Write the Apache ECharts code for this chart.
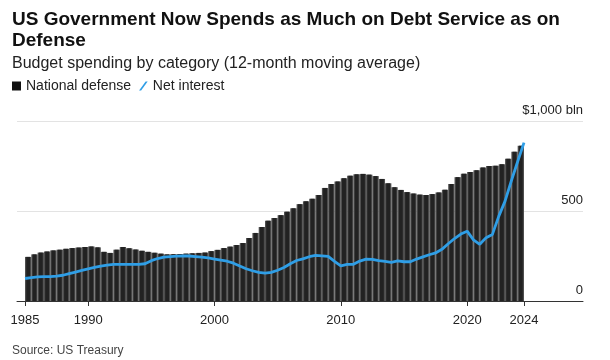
<!DOCTYPE html>
<html>
<head>
<meta charset="utf-8">
<script src="https://cdn.jsdelivr.net/npm/echarts@6/dist/echarts.min.js"></script>
<style>
html,body{margin:0;padding:0;background:#fff;}
#chart{width:610px;height:360px;}
</style>
</head>
<body>
<div id="chart"></div>
<script>
// Semiannual values (bln USD), 12-month moving average
const startYear = 1985;
const step = 0.5;
// National defense: one value per half-year, 1985 H1 ... 2024 H1
const defense = [245,259,269,275,281,285,290,294,297,300,303,298,273,267,285,300,293,286,279,273,
  268,263,259,260,261,263,265,267,269,277,284,294,302,311,322,350,378,411,446,461,
  477,496,515,538,554,568,589,628,650,664,682,696,704,706,702,694,678,654,632,617,
  605,597,591,589,594,603,618,650,688,707,717,727,741,750,751,760,790,829,862];
// Net interest: points every half-year, 1985.0 ... 2024.5
const interest = [125,130,134,135,135,138,143,152,161,170,179,187,194,199,203,204,204,204,204,207,
  224,236,244,247,249,250,250,247,244,239,233,227,221,210,194,179,168,159,155,159,
  171,186,207,225,234,246,253,251,248,220,195,203,204,222,233,231,224,220,215,223,
  218,218,233,245,257,267,287,318,347,372,388,340,315,352,370,470,555,668,775,880];
const tickYears = [1985, 1990, 2000, 2010, 2020, 2024.5];
const tickLabels = ['1985', '1990', '2000', '2010', '2020', '2024'];
const yTicks = [0, 500, 1000];
const yLabels = ['0', '500', '$1,000 bln'];

const defensePts = defense.map((v, i) => [startYear + step / 2 + i * step, v]);
const interestPts = interest.map((v, i) => [startYear + i * step, v]);

const font = '"Liberation Sans", Arial, Helvetica, sans-serif';
const chart = echarts.init(document.getElementById('chart'), null, {renderer: 'canvas'});
chart.setOption({
  animation: false,
  backgroundColor: '#fff',
  textStyle: {fontFamily: font},
  title: {
    text: 'US Government Now Spends as Much on Debt Service as on Defense',
    subtext: 'Budget spending by category (12-month moving average)',
    left: 12, top: 9, itemGap: 5, padding: 0,
    textStyle: {fontFamily: font, fontSize: 19, fontWeight: 'bold', color: '#111', lineHeight: 21, width: 580, overflow: 'break'},
    subtextStyle: {fontFamily: font, fontSize: 16, color: '#222'}
  },
  legend: {
    left: 12, top: 79, padding: 0, itemGap: 8, itemWidth: 9, itemHeight: 9,
    textStyle: {fontFamily: font, fontSize: 14, color: '#222'},
    data: [
      {name: 'National defense', icon: 'rect', itemStyle: {color: '#111'}},
      {name: 'Net interest', icon: 'path://M8,0 L10.5,0 L2.5,11 L0,11 Z', itemStyle: {color: '#2f9ee6'}}
    ]
  },
  grid: {left: 17, right: 27, top: 121, bottom: 59},
  xAxis: {
    type: 'value',
    min: 1985 - 8 / 12.633, max: 2024.5 + 59 / 12.633,
    splitLine: {show: false},
    axisLine: {show: true, lineStyle: {color: '#333', width: 1}},
    axisTick: {show: true, customValues: tickYears, length: 5, lineStyle: {color: '#333'}},
    axisLabel: {
      customValues: tickYears, margin: 13, fontSize: 13, color: '#222', fontFamily: font,
      formatter: v => { const k = tickYears.findIndex(t => Math.abs(t - v) < 1e-6); return k >= 0 ? tickLabels[k] : ''; }
    }
  },
  yAxis: {
    type: 'value', position: 'right', min: 0, max: 1000, interval: 500,
    axisLine: {show: false}, axisTick: {show: false},
    splitLine: {lineStyle: {color: '#e3e3e3', width: 1}},
    axisLabel: {
      inside: true, margin: 0, fontSize: 13, color: '#222', fontFamily: font,
      verticalAlign: 'bottom', lineHeight: 22,
      formatter: v => { const k = yTicks.indexOf(v); return k >= 0 ? yLabels[k] : ''; }
    }
  },
  series: [
    {
      name: 'National defense', type: 'custom', data: defensePts, z: 2,
      itemStyle: {color: '#222'},
      encode: {x: 0, y: 1},
      renderItem: function (params, api) {
        const x = api.value(0), v = api.value(1);
        const a = api.coord([x - step / 2, v]);
        const b = api.coord([x + step / 2, 0]);
        const w = b[0] - a[0];
        const darkW = w * 0.62;
        return {
          type: 'group',
          children: [
            {type: 'rect', shape: {x: a[0], y: a[1], width: w, height: b[1] - a[1]}, style: {fill: '#4e4e4e'}},
            {type: 'rect', shape: {x: a[0] + (w - darkW) / 2, y: a[1], width: darkW, height: b[1] - a[1]}, style: {fill: '#222222'}}
          ]
        };
      }
    },
    {
      name: 'Net interest', type: 'line', data: interestPts, symbol: 'none', smooth: false,
      lineStyle: {color: '#2f9ee6', width: 2.8}, itemStyle: {color: '#2f9ee6'}, z: 3
    }
  ],
  graphic: [{
    type: 'text', left: 12, top: 345,
    style: {text: 'Source: US Treasury', fontFamily: font, fontSize: 12, fill: '#444'}
  }]
});
</script>
</body>
</html>
